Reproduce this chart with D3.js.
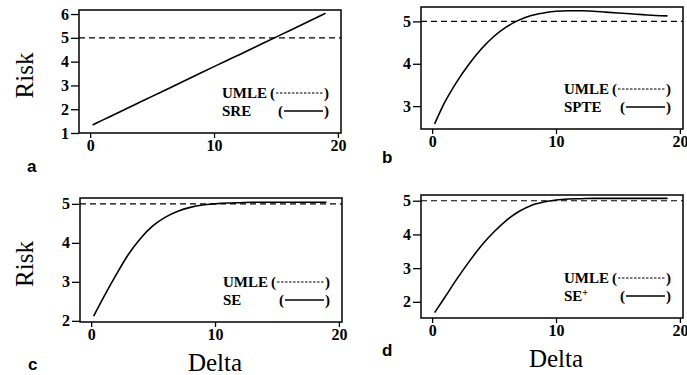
<!DOCTYPE html>
<html>
<head>
<meta charset="utf-8">
<script src="https://cdn.jsdelivr.net/npm/d3@7"></script>
<style>
  html, body { margin: 0; padding: 0; background: #fff; }
  svg { display: block; }
  .tick text { font-family: "Liberation Serif", serif; font-weight: bold; font-size: 16px; fill: #000; }
  .tick line { stroke: #000; stroke-width: 1.3; }
</style>
</head>
<body>
<svg id="chart" width="687" height="375"></svg>
<script>
// delta grid shared by all four panels
const deltas = [0.2, 1, 2, 3, 4, 5, 6, 7, 8, 9, 10, 11, 12, 13, 14, 15, 16, 17, 18, 19];
const umle = 5;

const riskSRE  = [1.34, 1.54, 1.79, 2.04, 2.29, 2.54, 2.79, 3.04, 3.29, 3.54, 3.79, 4.04, 4.28, 4.53, 4.78, 5.03, 5.28, 5.53, 5.78, 6.03];
const riskSPTE = [2.58, 3.08, 3.58, 4.0, 4.36, 4.65, 4.87, 5.03, 5.14, 5.2, 5.24, 5.25, 5.25, 5.24, 5.22, 5.2, 5.18, 5.16, 5.14, 5.13];
const riskSE   = [2.12, 2.6, 3.17, 3.7, 4.12, 4.44, 4.66, 4.81, 4.91, 4.97, 5.0, 5.02, 5.03, 5.04, 5.04, 5.04, 5.04, 5.04, 5.04, 5.04];
const riskSEp  = [1.68, 2.12, 2.68, 3.2, 3.68, 4.08, 4.42, 4.68, 4.86, 4.96, 5.02, 5.05, 5.06, 5.07, 5.07, 5.07, 5.07, 5.07, 5.07, 5.07];

const xTicks = [0, 10, 20];

const panels = [
  { id: "a", series: riskSRE,  name: "SRE",  yTicks: [1, 2, 3, 4, 5, 6], yDomain: [1, 6.17],
    box: { left: 79, right: 341, top: 10, bottom: 133 }, letter: [27, 172], risk: true },
  { id: "b", series: riskSPTE, name: "SPTE", yTicks: [3, 4, 5], yDomain: [2.46, 5.34],
    box: { left: 421, right: 683, top: 7, bottom: 129 }, letter: [382, 163] },
  { id: "c", series: riskSE,   name: "SE",   yTicks: [2, 3, 4, 5], yDomain: [1.97, 5.15],
    box: { left: 80, right: 342, top: 198, bottom: 322 }, letter: [28, 370], risk: true, delta: 371 },
  { id: "d", series: riskSEp,  name: "SE", sup: "+", yTicks: [2, 3, 4, 5], yDomain: [1.52, 5.17],
    box: { left: 421, right: 683, top: 195, bottom: 318 }, letter: [382, 356], delta: 367 },
];

const svg = d3.select("#chart");
const serif = "'Liberation Serif', 'Times New Roman', serif";

panels.forEach(p => {
  const b = p.box;
  const x = d3.scaleLinear().domain([-0.9, 20.25]).range([b.left, b.right]);
  const y = d3.scaleLinear().domain(p.yDomain).range([b.bottom, b.top]);
  const g = svg.append("g");

  // axes
  g.append("g")
    .attr("transform", `translate(${b.left},0)`)
    .call(d3.axisLeft(y).tickValues(p.yTicks).tickFormat(d3.format("d")).tickSize(8).tickPadding(2))
    .call(a => a.select(".domain").remove());
  g.append("g")
    .attr("transform", `translate(0,${b.bottom})`)
    .call(d3.axisBottom(x).tickValues(xTicks).tickFormat(d3.format("d")).tickSize(5).tickPadding(2))
    .call(a => a.select(".domain").remove());

  // frame
  g.append("rect")
    .attr("x", b.left).attr("y", b.top)
    .attr("width", b.right - b.left).attr("height", b.bottom - b.top)
    .attr("fill", "none").attr("stroke", "#000").attr("stroke-width", 1.5);

  // UMLE reference
  g.append("line")
    .attr("x1", b.left).attr("x2", b.right)
    .attr("y1", y(umle)).attr("y2", y(umle))
    .attr("stroke", "#000").attr("stroke-width", 1.1)
    .attr("stroke-dasharray", "6,4");

  // estimator curve
  const line = d3.line()
    .x((d, i) => x(deltas[i]))
    .y(d => y(d))
    .curve(d3.curveMonotoneX);
  g.append("path")
    .datum(p.series)
    .attr("d", line)
    .attr("fill", "none").attr("stroke", "#000").attr("stroke-width", 1.6);

  // legend
  const lx = b.right - 119;
  const r1 = b.bottom - 35, r2 = b.bottom - 17;
  const lg = g.append("g").attr("font-family", serif).attr("font-weight", "bold").attr("font-size", 15);
  lg.append("text").attr("x", lx).attr("y", r1).text("UMLE");
  lg.append("text").attr("x", lx + 48).attr("y", r1).text("(");
  lg.append("line").attr("x1", lx + 54).attr("x2", b.right - 18).attr("y1", r1 - 5).attr("y2", r1 - 5)
    .attr("stroke", "#000").attr("stroke-width", 1.1).attr("stroke-dasharray", "2.5,1.5");
  lg.append("text").attr("x", b.right - 17).attr("y", r1).text(")");
  const t2 = lg.append("text").attr("x", lx).attr("y", r2).text(p.name);
  if (p.sup) t2.append("tspan").attr("font-size", 10).attr("dy", -5).text(p.sup);
  lg.append("text").attr("x", lx + 56).attr("y", r2).text("(");
  lg.append("line").attr("x1", lx + 62).attr("x2", b.right - 18).attr("y1", r2 - 5).attr("y2", r2 - 5)
    .attr("stroke", "#000").attr("stroke-width", 1.3);
  lg.append("text").attr("x", b.right - 17).attr("y", r2).text(")");

  // panel letter
  svg.append("text")
    .attr("x", p.letter[0]).attr("y", p.letter[1])
    .attr("font-family", "'Liberation Sans', Arial, sans-serif")
    .attr("font-weight", "bold").attr("font-size", 17)
    .text(p.id);

  if (p.risk) {
    svg.append("text")
      .attr("transform", `translate(33,${(b.top + b.bottom) / 2 + 4}) rotate(-90)`)
      .attr("text-anchor", "middle")
      .attr("font-family", serif).attr("font-size", 25)
      .text("Risk");
  }
  if (p.delta) {
    svg.append("text")
      .attr("x", x(10)).attr("y", p.delta)
      .attr("text-anchor", "middle")
      .attr("font-family", serif).attr("font-size", 25)
      .text("Delta");
  }
});
</script>
</body>
</html>
